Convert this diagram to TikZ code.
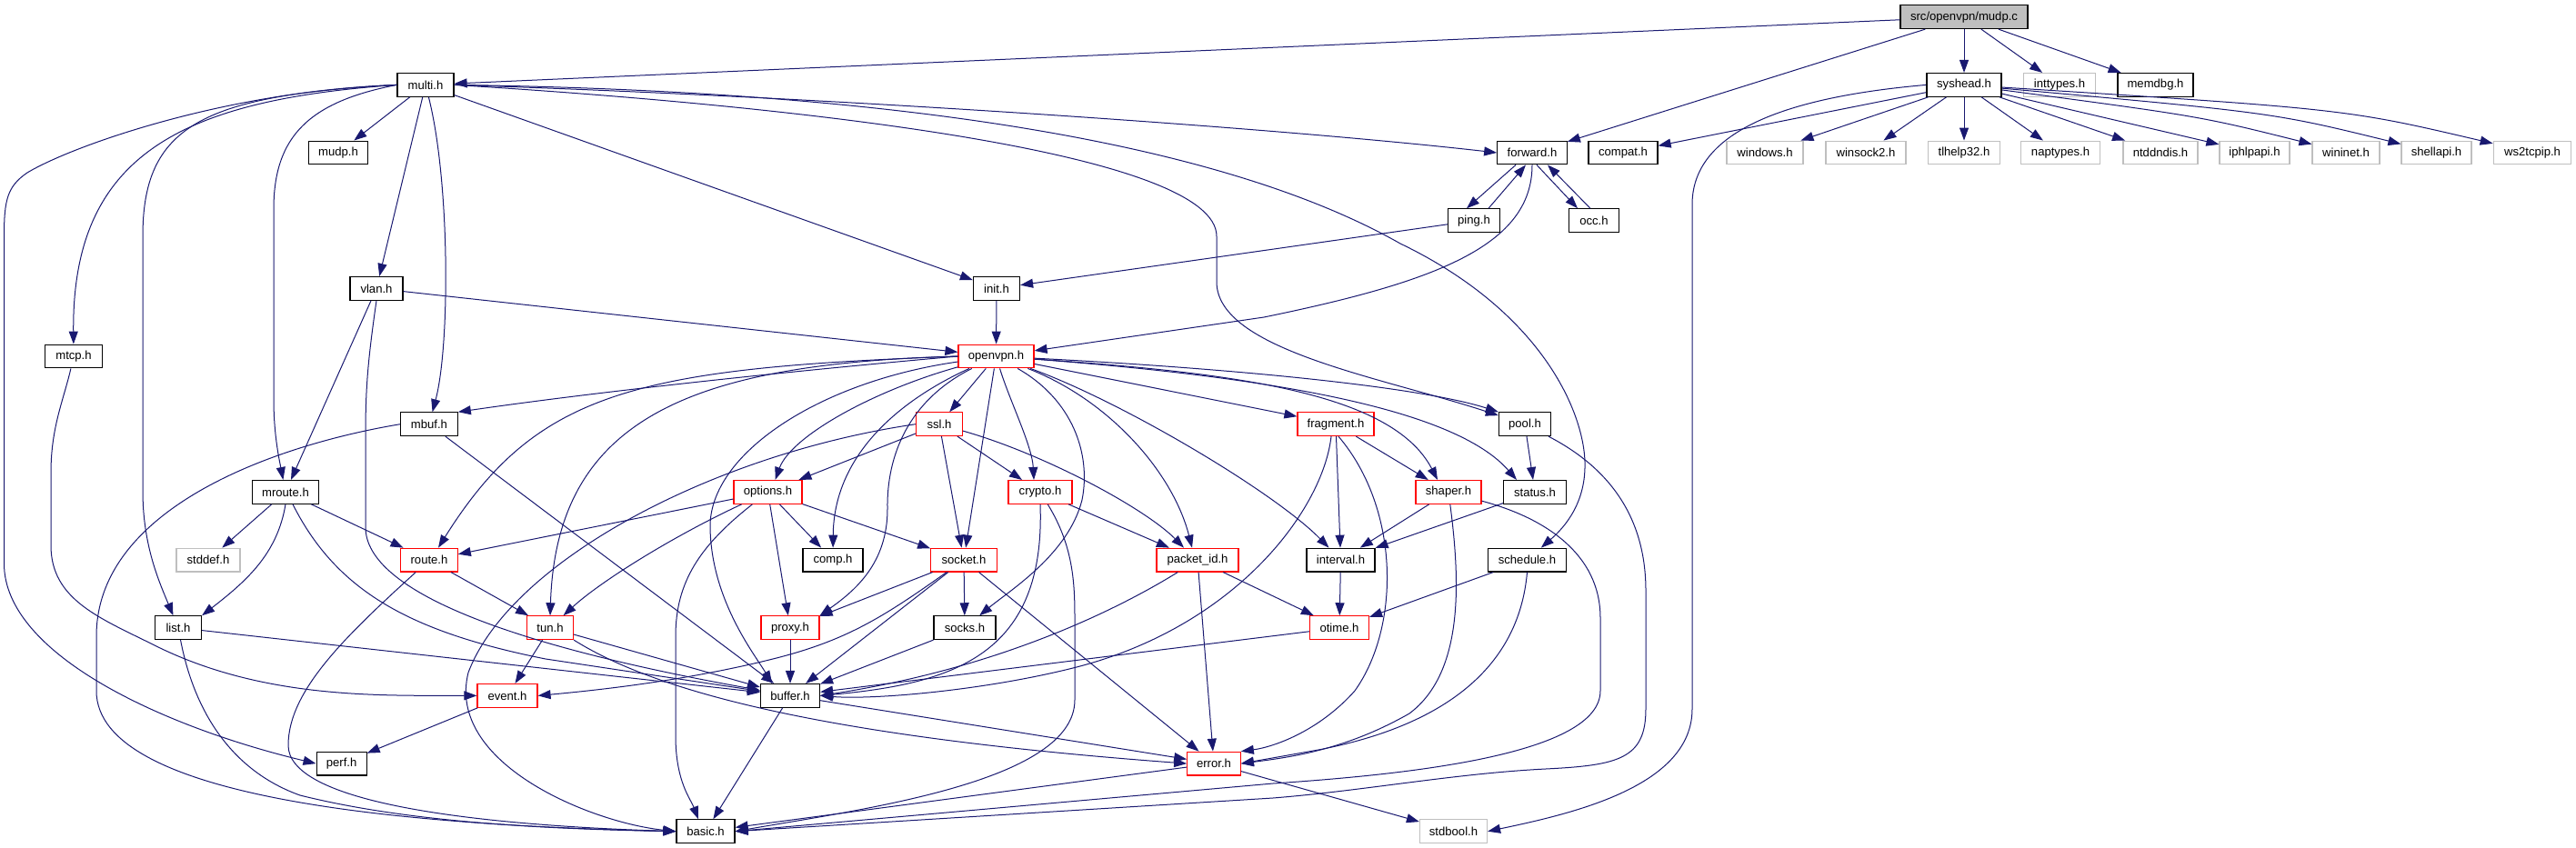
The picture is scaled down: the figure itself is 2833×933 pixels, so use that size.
\documentclass[tikz,border=0pt]{standalone}
\usepackage{fontspec}
\setmainfont{Liberation Sans}
\usetikzlibrary{arrows.meta}
\definecolor{edgeblue}{HTML}{191970}
\definecolor{grayb}{HTML}{BFBFBF}
\begin{document}
\begin{tikzpicture}[x=1pt,y=-1pt,
  box/.style={draw=black,line width=1.2pt,fill=white,minimum height=25.7pt,inner sep=0pt,font=\fontsize{13.1}{15}\selectfont,text=black},
  redbox/.style={box,draw=red},
  graybox/.style={box,draw=grayb},
  rootbox/.style={box,fill=grayb},
  e/.style={draw=edgeblue,line width=1pt,-{Triangle[length=14pt,width=10pt]}}
]
\path[use as bounding box] (0,0) rectangle (2833,933);
% rank 0
\node[rootbox,minimum width=140pt] (mudpc) at (2160,18.7) {src/openvpn/mudp.c};
% rank 1
\node[box,minimum width=62pt] (multi) at (468,93.4) {multi.h};
\node[box,minimum width=82pt] (syshead) at (2160,93.4) {syshead.h};
\node[graybox,minimum width=78.5pt] (inttypes) at (2265,93.4) {inttypes.h};
\node[box,minimum width=83pt] (memdbg) at (2370.5,93.4) {memdbg.h};
% rank 2
\node[box,minimum width=65pt] (mudph) at (372,168) {mudp.h};
\node[box,minimum width=76.5pt] (forward) at (1685,168) {forward.h};
\node[box,minimum width=76pt] (compat) at (1785,168) {compat.h};
\node[graybox,minimum width=84pt] (windows) at (1941,168) {windows.h};
\node[graybox,minimum width=88pt] (winsock2) at (2052,168) {winsock2.h};
\node[graybox,minimum width=78.5pt] (tlhelp32) at (2160,168) {tlhelp32.h};
\node[graybox,minimum width=86.5pt] (naptypes) at (2266,168) {naptypes.h};
\node[graybox,minimum width=82pt] (ntddndis) at (2376,168) {ntddndis.h};
\node[graybox,minimum width=77pt] (iphlpapi) at (2479.5,168) {iphlpapi.h};
\node[graybox,minimum width=74pt] (wininet) at (2580,168) {wininet.h};
\node[graybox,minimum width=77pt] (shellapi) at (2679.5,168) {shellapi.h};
\node[graybox,minimum width=85.6pt] (ws2tcpip) at (2785,168) {ws2tcpip.h};
% rank 3
\node[box,minimum width=57pt] (ping) at (1621,242.7) {ping.h};
\node[box,minimum width=55pt] (occ) at (1753,242.7) {occ.h};
% rank 4
\node[box,minimum width=58pt] (vlan) at (414,317.4) {vlan.h};
\node[box,minimum width=51pt] (init) at (1096,317.4) {init.h};
% rank 5
\node[box,minimum width=63pt] (mtcp) at (81,392) {mtcp.h};
\node[redbox,minimum width=83pt] (openvpn) at (1095.5,392) {openvpn.h};
% rank 6
\node[box,minimum width=62.5pt] (mbuf) at (472,466.7) {mbuf.h};
\node[redbox,minimum width=51pt] (ssl) at (1033,466.7) {ssl.h};
\node[redbox,minimum width=84pt] (fragment) at (1469,466.7) {fragment.h};
\node[box,minimum width=57pt] (pool) at (1677,466.7) {pool.h};
% rank 7
\node[box,minimum width=73pt] (mroute) at (314,541.4) {mroute.h};
\node[redbox,minimum width=75pt] (options) at (844.5,541.4) {options.h};
\node[redbox,minimum width=70pt] (crypto) at (1144,541.4) {crypto.h};
\node[redbox,minimum width=72pt] (shaper) at (1593,541.4) {shaper.h};
\node[box,minimum width=69pt] (status) at (1688,541.4) {status.h};
% rank 8
\node[graybox,minimum width=70pt] (stddef) at (229,616.1) {stddef.h};
\node[redbox,minimum width=62.5pt] (route) at (472,616.1) {route.h};
\node[box,minimum width=66pt] (comp) at (916,616.1) {comp.h};
\node[redbox,minimum width=72.5pt] (socket) at (1060,616.1) {socket.h};
\node[redbox,minimum width=90pt] (packetid) at (1317,616.1) {packet\_id.h};
\node[box,minimum width=75pt] (interval) at (1474.5,616.1) {interval.h};
\node[box,minimum width=86pt] (schedule) at (1679.5,616.1) {schedule.h};
% rank 9
\node[box,minimum width=51pt] (list) at (196,690.7) {list.h};
\node[redbox,minimum width=51pt] (tun) at (605,690.7) {tun.h};
\node[redbox,minimum width=64pt] (proxy) at (869,690.7) {proxy.h};
\node[box,minimum width=68pt] (socks) at (1061,690.7) {socks.h};
\node[redbox,minimum width=65pt] (otime) at (1473,690.7) {otime.h};
% rank 10
\node[redbox,minimum width=66pt] (event) at (558,765.4) {event.h};
\node[box,minimum width=65pt] (buffer) at (869,765.4) {buffer.h};
% rank 11
\node[box,minimum width=55pt] (perf) at (375.6,840.1) {perf.h};
\node[redbox,minimum width=58.5pt] (error) at (1335,840.1) {error.h};
% rank 12
\node[box,minimum width=64pt] (basic) at (776,914.7) {basic.h};
\node[graybox,minimum width=74pt] (stdbool) at (1598.5,914.7) {stdbool.h};

% ---- edges ----
\draw[e] (mudpc) -- (multi);
\draw[e] (mudpc) -- (forward);
\draw[e] (mudpc) -- (syshead);
\draw[e] (mudpc) -- (inttypes);
\draw[e] (mudpc) -- (memdbg);
% syshead
\draw[e] (syshead) -- (compat);
\draw[e] (syshead) -- (windows);
\draw[e] (syshead) -- (winsock2);
\draw[e] (syshead) -- (tlhelp32);
\draw[e] (syshead) -- (naptypes);
\draw[e] (syshead) -- (ntddndis);
\draw[e] (syshead) -- (iphlpapi);
\draw[e] (syshead) .. controls (2420,128) .. (wininet);
\draw[e] (syshead) .. controls (2500,124) .. (shellapi);
\draw[e] (syshead) .. controls (2580,120) .. (ws2tcpip);
\draw[e] (syshead.west) .. controls (1950,108) and (1861,150) .. (1861,225) -- (1861,780) .. controls (1861,865) and (1730,895) .. (stdbool.east);
% multi
\draw[e] (multi) -- (mudph);
\draw[e] (multi) -- (vlan);
\draw[e] (multi) .. controls (495,200) and (495,380) .. (mbuf);
\draw[e] (multi) -- (init);
\draw[e] (multi.east) .. controls (900,106) and (1400,140) .. (forward.west);
\draw[e] (multi.east) .. controls (1000,100) and (1350,160) .. (1540,268) .. controls (1700,345) and (1745,460) .. (1743,515) .. controls (1742,560) and (1715,585) .. (schedule);
\draw[e] (multi.east) .. controls (900,118) and (1338,170) .. (1338,260) -- (1338,310) .. controls (1338,385) and (1520,415) .. (pool);
\draw[e] (multi.west) .. controls (200,110) and (79,170) .. (mtcp);
\draw[e] (multi.west) .. controls (250,100) and (80,160) .. (30,190) .. controls (8,205) and (4.5,220) .. (4.5,260) -- (4.5,620) .. controls (4.5,720) and (180,800) .. (perf.west);
\draw[e] (multi.west) .. controls (220,105) and (157,140) .. (157,260) -- (157,540) .. controls (157,600) and (175,640) .. (list);
\draw[e] (multi.west) .. controls (340,112) and (301,150) .. (301,230) -- (301,440) .. controls (301,480) and (308,510) .. (mroute);
% forward / ping / occ
\draw[e] ([xshift=-18pt]forward.south) -- ([xshift=-8pt]ping.north);
\draw[e] ([xshift=16pt]ping.north) -- ([xshift=-7pt]forward.south);
\draw[e] ([xshift=5pt]forward.south) -- ([xshift=-18pt]occ.north);
\draw[e] ([xshift=-4pt]occ.north) -- ([xshift=17pt]forward.south);
\draw[e] (forward.south) .. controls (1685,270) and (1580,310) .. (1390,349) -- (openvpn);
\draw[e] (ping) -- (init);
\draw[e] (init) -- (openvpn);
% vlan
\draw[e] (vlan) -- (openvpn);
\draw[e] (vlan) -- (mroute);
\draw[e] (vlan.south) .. controls (404,400) and (402,430) .. (402,480) -- (402,580) .. controls (402,650) and (560,710) .. (buffer);
% mtcp
\draw[e] (mtcp) .. controls (70,440) and (56,470) .. (56,520) -- (56,600) .. controls (56,660) and (110,680) .. (170,710) .. controls (290,770) and (420,765) .. (event.west);
% mbuf
\draw[e] (mbuf) -- (buffer);
\draw[e] (mbuf.west) .. controls (300,490) and (106,560) .. (106,700) -- (106,760) .. controls (106,880) and (450,908) .. (basic.west);
% mroute
\draw[e] (mroute) -- (stddef);
\draw[e] (mroute.south) .. controls (305,610) and (270,640) .. (list.north east);
\draw[e] (mroute) -- (route);
\draw[e] ([xshift=8pt]mroute.south) .. controls (370,650) and (450,695) .. (600,725) -- (buffer);
% route
\draw[e] (route) -- (tun);
\draw[e] (route) .. controls (380,700) and (317,760) .. (317,820) .. controls (317,880) and (500,907) .. (basic.west);
% list
\draw[e] (list) -- (buffer);
\draw[e] (list) .. controls (215,790) and (260,850) .. (330,875) .. controls (450,905) and (600,912) .. (basic.west);
% tun
\draw[e] (tun) -- (event);
\draw[e] (tun) -- (buffer);
\draw[e] (tun.south east) .. controls (720,760) and (900,810) .. (error.west);
% event
\draw[e] (event) -- (perf);
% openvpn
\draw[e] (openvpn.west) .. controls (850,410) and (650,432) .. (mbuf.north east);
\draw[e] (openvpn.west) .. controls (700,405) and (590,430) .. ([xshift=10pt]route.north);
\draw[e] (openvpn.west) .. controls (760,400) and (612,460) .. (tun.north);
\draw[e] (openvpn) .. controls (900,420) and (780,500) .. (781,580) .. controls (782,660) and (830,720) .. ([xshift=-20pt]buffer.north);
\draw[e] (openvpn) .. controls (960,430) and (870,480) .. ([xshift=8pt]options.north);
\draw[e] (openvpn) .. controls (990,440) and (917,500) .. (comp);
\draw[e] (openvpn) -- (ssl);
\draw[e] (openvpn) .. controls (1000,440) and (975,500) .. (976,560) .. controls (976,620) and (940,650) .. (proxy.north east);
\draw[e] (openvpn) -- (socket);
\draw[e] (openvpn) .. controls (1110,440) and (1135,490) .. ([xshift=-7pt]crypto.north);
\draw[e] (openvpn) .. controls (1180,440) and (1200,500) .. (1190,550) .. controls (1175,610) and (1110,650) .. (socks);
\draw[e] (openvpn) .. controls (1220,440) and (1290,520) .. ([xshift=-6pt]packetid.north);
\draw[e] (openvpn) .. controls (1230,440) and (1400,540) .. ([xshift=-13pt]interval.north);
\draw[e] (openvpn) -- (fragment);
\draw[e] (openvpn) .. controls (1350,405) and (1560,425) .. (pool.north west);
\draw[e] (openvpn) .. controls (1350,410) and (1530,430) .. ([xshift=-12pt]shaper.north);
\draw[e] (openvpn) .. controls (1400,415) and (1600,450) .. ([xshift=-20pt]status.north);
% ssl
\draw[e] (ssl) -- (options);
\draw[e] (ssl) -- (socket);
\draw[e] (ssl) -- (crypto);
\draw[e] (ssl) .. controls (1150,500) and (1260,560) .. ([xshift=-15pt]packetid.north);
\draw[e] (ssl.west) .. controls (780,500) and (560,620) .. (515,740) .. controls (490,840) and (650,905) .. (basic.west);
% options
\draw[e] (options) -- (comp);
\draw[e] (options) -- (socket);
\draw[e] (options) -- (proxy);
\draw[e] (options) -- (route);
\draw[e] (options) .. controls (740,590) and (660,640) .. (tun);
\draw[e] (options) .. controls (770,600) and (743,640) .. (743,700) -- (743,810) .. controls (743,860) and (760,880) .. ([xshift=-8pt]basic.north);
% crypto
\draw[e] (crypto) -- (packetid);
\draw[e] (crypto.south) .. controls (1150,720) and (1050,752) .. (buffer.east);
\draw[e] (crypto) .. controls (1180,600) and (1182,640) .. (1182,680) -- (1182,770) .. controls (1182,860) and (950,890) .. (basic.east);
% fragment
\draw[e] (fragment) -- (interval);
\draw[e] (fragment) -- (shaper);
\draw[e] ([xshift=-5pt]fragment.south) .. controls (1455,560) and (1360,690) .. (1180,735) .. controls (1080,760) and (960,770) .. (buffer.east);
\draw[e] ([xshift=3pt]fragment.south) .. controls (1540,560) and (1540,690) .. (1490,760) .. controls (1450,805) and (1400,822) .. (error.north east);
% shaper
\draw[e] (shaper) -- (interval);
\draw[e] (shaper) .. controls (1606,640) and (1610,740) .. (1550,785) .. controls (1480,825) and (1420,833) .. (error.east);
\draw[e] (shaper) .. controls (1700,570) and (1760,610) .. (1760,680) -- (1760,760) .. controls (1760,830) and (1550,852) .. (1400,862) -- (basic.east);
% status / pool
\draw[e] (status) -- (interval);
\draw[e] (pool) -- (status);
\draw[e] (pool) .. controls (1780,520) and (1810,580) .. (1810,650) -- (1810,780) .. controls (1810,835) and (1780,842) .. (1700,846) .. controls (1600,851) and (1500,870) .. (1400,878) -- (basic.east);
% interval / schedule
\draw[e] (interval) -- (otime);
\draw[e] (schedule) -- (otime);
\draw[e] (schedule.south) .. controls (1670,740) and (1580,800) .. (1450,825) -- (error.east);
% otime
\draw[e] (otime) -- (buffer);
% packet_id
\draw[e] (packetid) .. controls (1230,670) and (1100,735) .. (buffer.east);
\draw[e] (packetid) -- (error);
\draw[e] (packetid) -- (otime);
% socket
\draw[e] (socket) -- (proxy);
\draw[e] (socket) -- (socks);
\draw[e] (socket) -- (buffer);
\draw[e] (socket) .. controls (970,680) and (930,705) .. (850,725) .. controls (750,750) and (650,760) .. (event.east);
\draw[e] (socket) -- (error);
% proxy / socks
\draw[e] (proxy) -- (buffer);
\draw[e] (socks) -- (buffer);
% buffer / error
\draw[e] (buffer) -- (basic);
\draw[e] (buffer) -- (error);
\draw[e] (error) -- (basic);
\draw[e] (error) -- (stdbool);
\end{tikzpicture}
\end{document}
